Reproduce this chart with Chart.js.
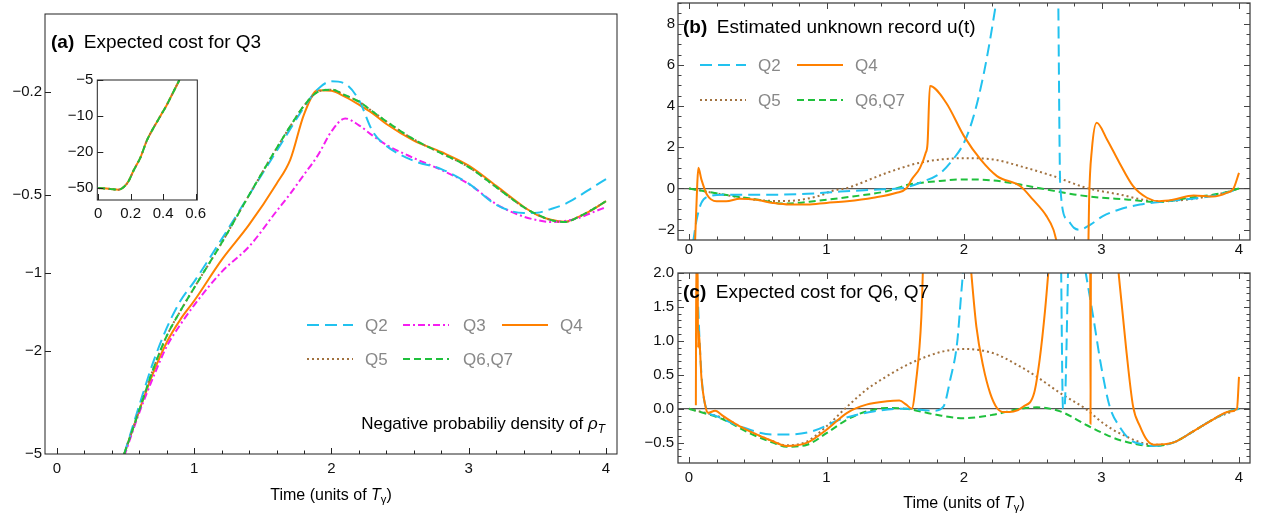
<!DOCTYPE html>
<html>
<head>
<meta charset="utf-8">
<script src="https://cdn.jsdelivr.net/npm/chart.js@4.4.0/dist/chart.umd.min.js"></script>
<style>
  body { margin: 0; background: #fff; width: 1262px; height: 518px; overflow: hidden; position: relative;
         font-family: "Liberation Sans", Arial, Helvetica, sans-serif; }
  canvas { position: absolute; }
  .t { position: absolute; white-space: nowrap; color: #000; z-index: 5; }
  .ttl { font-size: 19px; line-height: 22px; }
  .note { font-size: 17px; line-height: 20px; }
  .axt { font-size: 16px; line-height: 18px; transform: translate(-50%, -50%); }
  sub { font-size: 70%; vertical-align: -0.3em; line-height: 0; }
</style>
</head>
<body>
<canvas id="chartA" width="630" height="518" style="left:0;top:0"></canvas>
<canvas id="chartIn" width="170" height="160" style="left:50px;top:70px"></canvas>
<canvas id="chartB" width="622" height="260" style="left:640px;top:0"></canvas>
<canvas id="chartC" width="622" height="258" style="left:640px;top:260px"></canvas>

<div class="t ttl" style="left:51px;top:31px"><b>(a)</b>&ensp;Expected cost for Q3</div>
<div class="t ttl" style="left:683px;top:16px"><b>(b)</b>&ensp;Estimated unknown record u(t)</div>
<div class="t ttl" style="left:683px;top:281px"><b>(c)</b>&ensp;Expected cost for Q6, Q7</div>
<div class="t note" style="right:657px;top:414px">Negative probabiliy density of <i>ρ</i><sub><i>T</i></sub></div>
<div class="t axt" style="left:331px;top:495px">Time (units of <i>T</i><sub>γ</sub>)</div>
<div class="t axt" style="left:964px;top:503px">Time (units of <i>T</i><sub>γ</sub>)</div>

<script>
// ---------- panel (a): expected cost for Q3 ----------
const aTicksX = [0, 1, 2, 3, 4];
const aTicksY = [-0.2, -0.5, -1, -2, -5];
const aT   = [0.49, 0.6, 0.7, 0.8, 0.9, 1.0, 1.2, 1.4, 1.6, 1.7, 1.8, 1.9, 2.0, 2.1, 2.2, 2.3, 2.4, 2.6, 2.8, 3.0, 3.2, 3.4, 3.5, 3.6, 3.7, 3.8, 3.9, 4.0];
const aQ2  = [-5.0, -3.24, -2.22, -1.63, -1.28, -1.08, -0.74, -0.50, -0.338, -0.278, -0.229, -0.195, -0.182, -0.186, -0.215, -0.284, -0.323, -0.369, -0.397, -0.452, -0.545, -0.587, -0.585, -0.566, -0.542, -0.506, -0.468, -0.434];
const aQ3  = [-5.1, -3.46, -2.54, -1.92, -1.58, -1.33, -0.99, -0.79, -0.577, -0.494, -0.417, -0.352, -0.284, -0.253, -0.269, -0.295, -0.320, -0.360, -0.400, -0.453, -0.542, -0.606, -0.625, -0.636, -0.630, -0.614, -0.584, -0.557];
const aQ4  = [-5.0, -3.39, -2.44, -1.85, -1.51, -1.28, -0.89, -0.651, -0.452, -0.365, -0.244, -0.197, -0.198, -0.209, -0.224, -0.242, -0.266, -0.308, -0.341, -0.385, -0.461, -0.555, -0.598, -0.623, -0.634, -0.607, -0.570, -0.528];
const aQ5  = [-5.0, -3.38, -2.36, -1.75, -1.40, -1.14, -0.765, -0.50, -0.330, -0.271, -0.226, -0.200, -0.196, -0.206, -0.218, -0.238, -0.260, -0.305, -0.345, -0.390, -0.466, -0.557, -0.595, -0.625, -0.636, -0.607, -0.569, -0.528];
const aQ67 = [-5.0, -3.38, -2.36, -1.75, -1.40, -1.14, -0.765, -0.50, -0.330, -0.271, -0.226, -0.200, -0.196, -0.206, -0.218, -0.238, -0.260, -0.305, -0.345, -0.390, -0.466, -0.557, -0.595, -0.625, -0.636, -0.607, -0.569, -0.528];

// inset of (a)
const inTicksX = [0, 0.2, 0.4, 0.6];
const inTicksY = [-5, -10, -20, -50];
const inT = [0, 0.074, 0.125, 0.156, 0.187, 0.218, 0.26, 0.30, 0.34, 0.383, 0.424, 0.465, 0.50];
const inV = [-50, -51, -52, -49, -42, -32, -23, -16, -12.6, -10, -8.0, -6.2, -5];

// ---------- panel (b): estimated unknown record u(t) ----------
const bcTicksX = [0, 1, 2, 3, 4];
const bTicksY = [-2, 0, 2, 4, 6, 8];
const bQ2T = [0.03, 0.056, 0.09, 0.15, 0.25, 0.37, 0.61, 0.86, 1.1, 1.34, 1.58, 1.68, 1.83, 1.92, 2.0, 2.07, 2.14, 2.19, 2.23, 2.25, 2.45, 2.685, 2.70, 2.75, 2.8, 2.84, 2.92, 3.01, 3.13, 3.28, 3.47, 3.72, 3.91, 4.0];
const bQ2V = [-2.6, -1.5, -0.7, -0.37, -0.3, -0.3, -0.3, -0.26, -0.15, -0.06, 0.06, 0.28, 0.76, 1.41, 2.22, 3.51, 5.45, 7.23, 8.85, 9.6, null, 9.6, 0.11, -1.5, -1.91, -2.0, -1.75, -1.34, -1.02, -0.78, -0.62, -0.45, -0.21, 0];
const bQ4T = [0.044, 0.06, 0.068, 0.09, 0.13, 0.2, 0.27, 0.37, 0.49, 0.61, 0.73, 0.86, 1.0, 1.15, 1.34, 1.51, 1.58, 1.62, 1.68, 1.72, 1.735, 1.752, 1.87, 2.0, 2.12, 2.24, 2.41, 2.5, 2.6, 2.65, 2.675, 2.8, 2.905, 2.91, 2.93, 2.965, 3.04, 3.13, 3.23, 3.33, 3.42, 3.52, 3.67, 3.81, 3.91, 3.96, 4.0];
const bQ4V = [-2.6, 0.2, 1.0, 0.44, -0.29, -0.62, -0.62, -0.5, -0.55, -0.7, -0.78, -0.78, -0.7, -0.62, -0.45, -0.21, 0.0, 0.44, 1.0, 1.7, 2.2, 4.97, 4.16, 2.54, 1.41, 0.6, 0.11, -0.53, -1.34, -1.99, -2.6, null, -2.6, -0.53, 1.89, 3.19, 2.38, 1.25, 0.11, -0.45, -0.62, -0.55, -0.34, -0.39, -0.21, 0, 0.76];
const bQ5T = [0, 0.25, 0.49, 0.69, 0.93, 1.05, 1.15, 1.19, 1.44, 1.68, 2.0, 2.21, 2.41, 2.65, 2.89, 3.13, 3.4, 3.64, 3.89, 4.0];
const bQ5V = [0, -0.3, -0.55, -0.61, -0.39, -0.1, 0.02, 0.11, 0.76, 1.25, 1.47, 1.41, 1.08, 0.6, 0.03, -0.29, -0.62, -0.53, -0.21, 0];
const bQ67T = [0, 0.25, 0.49, 0.69, 0.93, 1.19, 1.44, 1.6, 1.8, 2.0, 2.21, 2.41, 2.6, 2.8, 3.0, 3.18, 3.4, 3.64, 3.89, 4.0];
const bQ67V = [0, -0.29, -0.53, -0.73, -0.6, -0.39, -0.13, 0.19, 0.35, 0.44, 0.39, 0.19, -0.05, -0.29, -0.45, -0.53, -0.66, -0.45, -0.21, 0];

// ---------- panel (c): expected cost for Q6, Q7 ----------
const cTicksY = [-0.5, 0, 0.5, 1, 1.5, 2];
const cQ2T = [0.052, 0.08, 0.10, 0.13, 0.2, 0.37, 0.61, 0.73, 0.9, 1.1, 1.34, 1.58, 1.78, 1.85, 1.90, 1.95, 1.98, 2.005, 2.35, 2.705, 2.72, 2.73, 2.76, 2.81, 2.86, 2.94, 3.0, 3.06, 3.13, 3.21, 3.31, 3.38, 3.52, 3.67, 3.81, 3.93, 4.0];
const cQ2V = [2.3, 0.87, 0.28, -0.01, -0.11, -0.26, -0.38, -0.38, -0.33, -0.16, -0.04, 0.0, -0.03, 0.03, 0.43, 0.97, 1.70, 2.3, null, 2.3, 0.0, 0.0, 2.3, null, 2.3, 1.35, 0.6, 0.03, -0.26, -0.46, -0.53, -0.55, -0.5, -0.33, -0.16, -0.04, 0];
const cQ4T = [0.05, 0.053, 0.062, 0.066, 0.071, 0.09, 0.12, 0.14, 0.19, 0.25, 0.37, 0.61, 0.71, 0.86, 1.0, 1.15, 1.29, 1.44, 1.53, 1.58, 1.62, 1.65, 1.69, 1.705, 1.9, 2.04, 2.09, 2.14, 2.19, 2.24, 2.29, 2.36, 2.43, 2.51, 2.55, 2.59, 2.625, 2.8, 2.918, 2.92, 2.923, 3.0, 3.11, 3.18, 3.23, 3.28, 3.33, 3.38, 3.52, 3.67, 3.81, 3.93, 3.985, 4.0];
const cQ4V = [0.05, 2.3, 2.3, 0.9, 1.15, 0.47, 0.03, -0.06, -0.03, -0.11, -0.26, -0.48, -0.55, -0.5, -0.31, -0.06, 0.06, 0.11, 0.12, 0.06, 0.0, 0.38, 1.36, 2.3, null, 2.3, 1.21, 0.62, 0.23, 0.01, -0.05, -0.04, 0.03, 0.23, 0.72, 1.46, 2.3, null, 2.3, -0.22, 2.3, null, 2.3, 0.87, 0.03, -0.26, -0.46, -0.53, -0.5, -0.33, -0.16, -0.04, 0.0, 0.47];
const cQ5T = [0, 0.25, 0.44, 0.61, 0.71, 0.86, 1.0, 1.15, 1.29, 1.44, 1.58, 1.73, 1.86, 2.0, 2.21, 2.41, 2.53, 2.70, 2.89, 3.01, 3.13, 3.38, 3.52, 3.67, 3.81, 4.0];
const cQ5V = [0, -0.14, -0.33, -0.48, -0.54, -0.48, -0.26, 0.03, 0.28, 0.48, 0.64, 0.77, 0.85, 0.88, 0.82, 0.62, 0.47, 0.23, -0.01, -0.21, -0.36, -0.53, -0.5, -0.33, -0.16, 0];
const cQ67T = [0, 0.25, 0.44, 0.61, 0.71, 0.86, 1.0, 1.15, 1.29, 1.44, 1.58, 1.8, 2.0, 2.21, 2.41, 2.53, 2.70, 2.89, 3.01, 3.13, 3.38, 3.52, 3.67, 3.81, 3.93, 4.0];
const cQ67V = [0, -0.16, -0.36, -0.5, -0.56, -0.53, -0.36, -0.16, -0.04, 0.01, 0.0, -0.09, -0.14, -0.09, 0.0, 0.02, -0.04, -0.24, -0.36, -0.46, -0.55, -0.5, -0.33, -0.16, -0.04, 0];

// ---------- styles ----------
Chart.defaults.font.family = '"Liberation Sans", Arial, Helvetica, sans-serif';
Chart.defaults.color = '#111';

const lineStyle = {
  'Q2':    { borderColor: '#22C2EF', borderDash: [12, 6] },
  'Q3':    { borderColor: '#F51EF0', borderDash: [7, 3, 2, 3] },
  'Q4':    { borderColor: '#FF8000', borderDash: [] },
  'Q5':    { borderColor: '#A2723F', borderDash: [2, 3] },
  'Q6,Q7': { borderColor: '#1FC03C', borderDash: [7, 4] }
};

const pts = (T, V) => T.map((t, i) => ({ x: t, y: V[i] }));
const neg = (T, V) => T.map((t, i) => ({ x: t, y: -V[i] }));   // log axis of |value|

function series(label, data, order) {
  return Object.assign({
    label, data, order, borderWidth: 2, pointRadius: 0, fill: false,
    cubicInterpolationMode: 'monotone', spanGaps: false
  }, lineStyle[label]);
}

function range(a, b, step) {
  const out = [];
  for (let v = a; v <= b + 1e-9; v += step) out.push(Math.round(v * 1000) / 1000);
  return out;
}

const fmtMinus = v => (v < 0 ? '\u2212' : '') + Math.abs(v);
const TICK_FONT = { size: 15 };

// frame + inward ticks, Mathematica style
const frameTicks = {
  id: 'frameTicks',
  afterDatasetsDraw(chart, args, o) {
    const { ctx, chartArea: a, scales } = chart;
    ctx.save();
    ctx.strokeStyle = o.color;
    ctx.lineWidth = o.width;
    ctx.strokeRect(a.left, a.top, a.right - a.left, a.bottom - a.top);
    ctx.lineWidth = 1;
    const mark = (axis, list, len) => {
      const sc = scales[axis];
      list.forEach(v => {
        const p = Math.round(sc.getPixelForValue(v)) + 0.5;
        if (axis === 'x' && (p < a.left || p > a.right)) return;
        if (axis === 'y' && (p < a.top || p > a.bottom)) return;
        o[axis].sides.forEach(side => {
          ctx.beginPath();
          if (side === 'bottom') { ctx.moveTo(p, a.bottom); ctx.lineTo(p, a.bottom - len); }
          if (side === 'top')    { ctx.moveTo(p, a.top);    ctx.lineTo(p, a.top + len); }
          if (side === 'left')   { ctx.moveTo(a.left, p);   ctx.lineTo(a.left + len, p); }
          if (side === 'right')  { ctx.moveTo(a.right, p);  ctx.lineTo(a.right - len, p); }
          ctx.stroke();
        });
      });
    };
    mark('x', o.x.major, 6); mark('x', o.x.minor || [], 3.5);
    mark('y', o.y.major, 6); mark('y', o.y.minor || [], 3.5);
    ctx.restore();
  }
};

// legend drawn inside the plot area
const innerLegend = {
  id: 'innerLegend',
  afterDraw(chart, args, o) {
    if (!o.items) return;
    const ctx = chart.ctx;
    ctx.save();
    ctx.font = o.font;
    ctx.fillStyle = o.color;
    ctx.textBaseline = 'middle';
    o.items.forEach(it => {
      const ds = chart.data.datasets.find(d => d.label === it.label);
      ctx.strokeStyle = ds.borderColor;
      ctx.lineWidth = ds.borderWidth;
      ctx.setLineDash(ds.borderDash || []);
      ctx.beginPath();
      ctx.moveTo(it.x, it.y);
      ctx.lineTo(it.x + o.len, it.y);
      ctx.stroke();
      ctx.setLineDash([]);
      ctx.fillText(it.label, it.tx, it.y + 1);
    });
    ctx.restore();
  }
};

function xAxis(ticks, min, max, h, pad) {
  return {
    type: 'linear', min, max,
    grid: { display: false, drawTicks: false }, border: { display: false },
    ticks: { font: TICK_FONT, padding: pad, maxRotation: 0, autoSkip: false, callback: v => String(v) },
    afterBuildTicks: s => { s.ticks = ticks.map(v => ({ value: v })); },
    afterFit: s => { s.height = h; s.paddingLeft = 0; s.paddingRight = 0; }
  };
}

function yAxis(ticks, min, max, w, pad, fmt) {
  return {
    type: 'linear', min, max,
    grid: { display: true, drawTicks: false, lineWidth: 1.2,
            color: c => (c.tick && c.tick.value === 0) ? '#555' : 'rgba(0,0,0,0)' },
    border: { display: false },
    ticks: { font: TICK_FONT, padding: pad, autoSkip: false, callback: fmt },
    afterBuildTicks: s => { s.ticks = ticks.map(v => ({ value: v })); },
    afterFit: s => { s.width = w; s.paddingTop = 0; s.paddingBottom = 0; }
  };
}

function baseOptions(padding, scales, plugins) {
  return {
    responsive: false, maintainAspectRatio: false, animation: false,
    layout: { padding },
    scales,
    plugins: Object.assign({ legend: { display: false }, tooltip: { enabled: false } }, plugins)
  };
}

// ---------- chart (a) ----------
new Chart(document.getElementById('chartA'), {
  type: 'line',
  data: {
    datasets: [
      series('Q6,Q7', neg(aT, aQ67), 0),
      series('Q5', neg(aT, aQ5), 1),
      series('Q2', neg(aT, aQ2), 2),
      series('Q3', neg(aT, aQ3), 3),
      series('Q4', neg(aT, aQ4), 4)
    ]
  },
  options: baseOptions({ left: 0, top: 14, right: 13, bottom: 24 }, {
    x: xAxis(aTicksX, -0.087, 4.08, 40, 6),
    y: {
      type: 'logarithmic', reverse: true, min: 0.1, max: 5,
      grid: { display: false, drawTicks: false }, border: { display: false },
      ticks: { font: TICK_FONT, padding: 3, autoSkip: false, callback: v => '\u2212' + v },
      afterBuildTicks: s => { s.ticks = aTicksY.map(v => ({ value: -v })); },
      afterFit: s => { s.width = 45; s.paddingTop = 0; s.paddingBottom = 0; }
    }
  }, {
    frameTicks: { color: '#222', width: 1,
      x: { major: aTicksX, minor: range(0, 4, 0.2), sides: ['bottom'] },
      y: { major: aTicksY.map(v => -v), sides: ['left'] } },
    innerLegend: { font: '17px "Liberation Sans", Arial, sans-serif', color: '#888', len: 46,
      items: [
        { label: 'Q2', x: 307, y: 325, tx: 365 },
        { label: 'Q3', x: 403, y: 325, tx: 463 },
        { label: 'Q4', x: 502, y: 325, tx: 560 },
        { label: 'Q5', x: 307, y: 359, tx: 365 },
        { label: 'Q6,Q7', x: 403, y: 359, tx: 463 }
      ] }
  }),
  plugins: [frameTicks, innerLegend]
});

// ---------- inset of (a) ----------
function insetPos(v) {
  const a = inTicksY.map(t => Math.log(-t));
  const L = Math.log(-v);
  let i = 0;
  while (i < a.length - 2 && L > a[i + 1]) i++;
  return i + (L - a[i]) / (a[i + 1] - a[i]);
}
const inPts = inT.map((t, i) => ({ x: t, y: insetPos(inV[i]) }));

new Chart(document.getElementById('chartIn'), {
  type: 'line',
  data: {
    datasets: [
      series('Q6,Q7', inPts, 0),
      series('Q5', inPts, 1),
      series('Q4', inPts, 2)
    ]
  },
  options: baseOptions({ left: 0, top: 10, right: 22.7, bottom: 10 }, {
    x: xAxis(inTicksX, -0.005, 0.61, 20, 5),
    y: {
      type: 'linear', reverse: true, min: 0, max: 3.33,
      grid: { display: false, drawTicks: false }, border: { display: false },
      ticks: { font: TICK_FONT, padding: 4, autoSkip: false,
               callback: (v, i) => fmtMinus(inTicksY[i]) },
      afterBuildTicks: s => { s.ticks = inTicksY.map((v, i) => ({ value: i })); },
      afterFit: s => { s.width = 47.3; s.paddingTop = 0; s.paddingBottom = 0; }
    }
  }, {
    frameTicks: { color: '#222', width: 1,
      x: { major: inTicksX, sides: ['bottom'] },
      y: { major: inTicksY.map((v, i) => i), sides: ['left'] } }
  }),
  plugins: [frameTicks]
});

// ---------- chart (b) ----------
new Chart(document.getElementById('chartB'), {
  type: 'line',
  data: {
    datasets: [
      series('Q6,Q7', pts(bQ67T, bQ67V), 2),
      series('Q5', pts(bQ5T, bQ5V), 3),
      series('Q2', pts(bQ2T, bQ2V), 1),
      series('Q4', pts(bQ4T, bQ4V), 0)
    ]
  },
  options: baseOptions({ left: 0, top: 3, right: 12, bottom: 2 }, {
    x: xAxis(bcTicksX, -0.08, 4.08, 18, 1),
    y: yAxis(bTicksY, -2.5, 9, 38, 3, fmtMinus)
  }, {
    frameTicks: { color: '#444', width: 1.3,
      x: { major: bcTicksX, minor: range(0, 4, 0.2), sides: ['bottom', 'top'] },
      y: { major: bTicksY, minor: range(-2.5, 9, 0.5), sides: ['left', 'right'] } },
    innerLegend: { font: '17px "Liberation Sans", Arial, sans-serif', color: '#888', len: 46,
      items: [
        { label: 'Q2', x: 60, y: 65, tx: 118 },
        { label: 'Q4', x: 157, y: 65, tx: 215 },
        { label: 'Q5', x: 60, y: 100, tx: 118 },
        { label: 'Q6,Q7', x: 157, y: 100, tx: 215 }
      ] }
  }),
  plugins: [frameTicks, innerLegend]
});

// ---------- chart (c) ----------
new Chart(document.getElementById('chartC'), {
  type: 'line',
  data: {
    datasets: [
      series('Q6,Q7', pts(cQ67T, cQ67V), 2),
      series('Q5', pts(cQ5T, cQ5V), 3),
      series('Q2', pts(cQ2T, cQ2V), 1),
      series('Q4', pts(cQ4T, cQ4V), 0)
    ]
  },
  options: baseOptions({ left: 0, top: 13, right: 12, bottom: 25 }, {
    x: xAxis(bcTicksX, -0.08, 4.08, 30, 6),
    y: yAxis(cTicksY, -0.8, 2.0, 38, 4, v => (v < 0 ? '\u2212' : '') + Math.abs(v).toFixed(1))
  }, {
    frameTicks: { color: '#444', width: 1.3,
      x: { major: bcTicksX, minor: range(0, 4, 0.2), sides: ['bottom', 'top'] },
      y: { major: cTicksY, minor: range(-0.8, 2.0, 0.1), sides: ['left', 'right'] } }
  }),
  plugins: [frameTicks]
});
</script>
</body>
</html>
